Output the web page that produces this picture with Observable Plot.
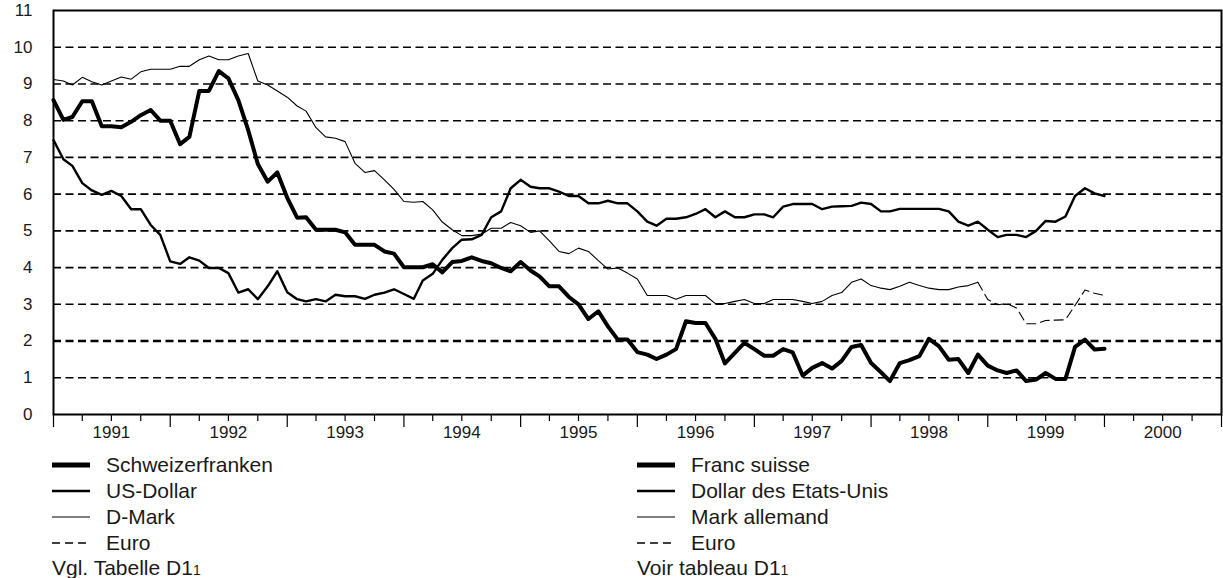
<!DOCTYPE html>
<html>
<head>
<meta charset="utf-8">
<script src="https://cdn.jsdelivr.net/npm/d3@7"></script>
<script src="https://cdn.jsdelivr.net/npm/@observablehq/plot@0.6"></script>
<style>
  html, body { margin: 0; padding: 0; background: #fff; }
  body { width: 1223px; height: 578px; position: relative; overflow: hidden; font-family: "Liberation Sans", Arial, sans-serif; color: #1a1a1a; }
  #chart { position: absolute; left: 0; top: 0; }
  .legcol { position: absolute; top: 452px; font-size: 21px; line-height: 26px; }
  .row { display: flex; align-items: center; height: 26px; white-space: nowrap; }
  .row svg { width: 40px; height: 26px; margin-right: 14px; flex: none; }
  .fn { font-size: 14px; }
</style>
</head>
<body>
<div id="chart"></div>
<div class="legcol" id="legL" style="left:52px"></div>
<div class="legcol" id="legR" style="left:637px"></div>
<script>
// ---- data (monthly, first value = January 1991) ----
const firstMonth = [1991, 0];
const chf = [8.56,8.02,8.10,8.53,8.53,7.85,7.85,7.82,7.97,8.15,8.29,8.00,
             8.00,7.36,7.56,8.81,8.81,9.35,9.15,8.56,7.74,6.82,6.34,6.59,
             5.90,5.36,5.37,5.03,5.03,5.03,4.96,4.62,4.62,4.62,4.44,4.38,
             4.01,4.01,4.01,4.09,3.87,4.15,4.18,4.28,4.18,4.12,3.99,3.90,
             4.15,3.92,3.76,3.49,3.49,3.20,3.00,2.60,2.81,2.40,2.04,2.04,
             1.70,1.63,1.51,1.63,1.78,2.54,2.49,2.49,2.06,1.39,1.68,1.95,
             1.78,1.60,1.60,1.78,1.69,1.06,1.27,1.40,1.25,1.46,1.84,1.89,
             1.40,1.15,0.91,1.40,1.48,1.59,2.06,1.86,1.49,1.51,1.13,1.63,
             1.33,1.20,1.13,1.20,0.91,0.95,1.13,0.97,0.97,1.84,2.04,1.77,
             1.79];
const usd = [7.47,6.95,6.77,6.30,6.10,5.98,6.09,5.95,5.59,5.59,5.16,4.89,
             4.17,4.10,4.28,4.19,3.99,3.99,3.85,3.32,3.41,3.14,3.49,3.90,
             3.33,3.14,3.08,3.14,3.08,3.26,3.22,3.22,3.15,3.26,3.32,3.41,
             3.28,3.15,3.65,3.83,4.21,4.53,4.76,4.77,4.89,5.37,5.53,6.16,
             6.39,6.20,6.16,6.16,6.07,5.95,5.95,5.75,5.75,5.82,5.75,5.75,
             5.53,5.25,5.14,5.33,5.33,5.37,5.46,5.59,5.37,5.53,5.37,5.37,
             5.45,5.45,5.37,5.66,5.73,5.73,5.73,5.59,5.66,5.67,5.68,5.77,
             5.73,5.53,5.53,5.60,5.60,5.60,5.60,5.60,5.53,5.25,5.14,5.25,
             5.03,4.83,4.89,4.89,4.83,5.00,5.27,5.25,5.39,5.95,6.16,6.02,
             5.95];
const dem = [9.12,9.08,8.97,9.18,9.06,8.97,9.08,9.19,9.13,9.33,9.40,9.40,
             9.40,9.48,9.48,9.66,9.76,9.66,9.66,9.76,9.83,9.08,8.97,8.81,
             8.64,8.40,8.26,7.81,7.56,7.52,7.43,6.84,6.59,6.64,6.39,6.13,
             5.80,5.78,5.80,5.57,5.24,5.03,4.87,4.87,4.91,5.07,5.07,5.23,
             5.14,4.96,5.00,4.73,4.44,4.38,4.53,4.44,4.19,3.96,3.99,3.85,
             3.69,3.24,3.24,3.24,3.14,3.24,3.24,3.24,3.02,3.02,3.08,3.13,
             3.02,3.02,3.13,3.13,3.13,3.08,3.02,3.08,3.24,3.32,3.60,3.69,
             3.51,3.44,3.40,3.49,3.60,3.51,3.44,3.40,3.40,3.47,3.51,3.60];
const euroFirstMonth = [1998, 11];
const euro = [3.60,3.13,2.99,3.02,2.90,2.47,2.47,2.56,2.57,2.58,2.97,3.39,3.30,3.24];

const yTicks = [0,1,2,3,4,5,6,7,8,9,10,11];
const gridThin = [1,3,4,5,6,7,8,9,10];
const gridBold = [2];
const yearLabels = ["1991","1992","1993","1994","1995","1996","1997","1998","1999","2000"];

const legendLeft = ["Schweizerfranken","US-Dollar","D-Mark","Euro"];
const legendRight = ["Franc suisse","Dollar des Etats-Unis","Mark allemand","Euro"];
const noteLeft = "Vgl. Tabelle D1";
const noteRight = "Voir tableau D1";
const noteMark = "1";

// ---- build tables ----
const toRows = (vals, [y, mo]) => vals.map((v, i) => ({date: new Date(Date.UTC(y, mo + i, 1)), value: v}));
const chfRows = toRows(chf, firstMonth);
const usdRows = toRows(usd, firstMonth);
const demRows = toRows(dem, firstMonth);
const euroRows = toRows(euro, euroFirstMonth);

const yearStarts = yearLabels.map(y => new Date(Date.UTC(+y, 0, 1))).concat([new Date(Date.UTC(2001,0,1))]);
const quarterTicks = yearLabels.flatMap(y => [3, 6, 9].map(m => new Date(Date.UTC(+y, m, 1))));
const midYears = yearLabels.map(y => new Date(Date.UTC(+y, 6, 1)));

const dash = "8,4.5";
const chart = Plot.plot({
  width: 1223,
  height: 445,
  marginLeft: 53,
  marginRight: 2,
  marginTop: 10,
  marginBottom: 31,
  style: {fontFamily: "'Liberation Sans', Arial, sans-serif", fontSize: "17px", color: "#1a1a1a", background: "#fff"},
  x: {type: "utc", domain: [new Date(Date.UTC(1991,0,1)), new Date(Date.UTC(2001,0,1))], axis: null, label: null},
  y: {domain: [0, 11], axis: null, label: null},
  marks: [
    Plot.ruleY(gridThin, {stroke: "#000", strokeWidth: 1.6, strokeDasharray: dash}),
    Plot.ruleY(gridBold, {stroke: "#000", strokeWidth: 2.6, strokeDasharray: dash}),
    Plot.lineY(demRows, {x: "date", y: "value", stroke: "#000", strokeWidth: 1.1}),
    Plot.lineY(euroRows, {x: "date", y: "value", stroke: "#000", strokeWidth: 1.1, strokeDasharray: "9,5"}),
    Plot.lineY(usdRows, {x: "date", y: "value", stroke: "#000", strokeWidth: 2.4}),
    Plot.lineY(chfRows, {x: "date", y: "value", stroke: "#000", strokeWidth: 4}),
    Plot.frame({stroke: "#000", strokeWidth: 2}),
    Plot.axisY({ticks: yTicks, tickSize: 0, tickPadding: 21, fontSize: 17, label: null, tickFormat: d => String(d)}),
    Plot.axisX({ticks: yearStarts, tickSize: 13, label: null, tickFormat: () => "", stroke: "#000", strokeWidth: 1.2}),
    Plot.axisX({ticks: quarterTicks, tickSize: 7, label: null, tickFormat: () => "", stroke: "#000", strokeWidth: 1.2}),
    Plot.axisX({ticks: midYears, tickSize: 0, tickPadding: 11, fontSize: 17, label: null, tickFormat: (d, i) => yearLabels[i]})
  ]
});
document.getElementById("chart").appendChild(chart);

// ---- legend ----
const samples = [
  {w: 5, dash: null},
  {w: 2.6, dash: null},
  {w: 1.1, dash: null},
  {w: 1.3, dash: "8,5"}
];
function fillLegend(el, labels, note) {
  labels.forEach((t, i) => {
    const s = samples[i];
    const row = document.createElement("div");
    row.className = "row";
    row.innerHTML = `<svg viewBox="0 0 40 26"><line x1="0" x2="38" y1="13" y2="13" stroke="#000" stroke-width="${s.w}" ${s.dash ? `stroke-dasharray="${s.dash}"` : ""}/></svg><span>${t}</span>`;
    el.appendChild(row);
  });
  const n = document.createElement("div");
  n.className = "row";
  n.innerHTML = `<span>${note}<span class="fn">${noteMark}</span></span>`;
  el.appendChild(n);
}
fillLegend(document.getElementById("legL"), legendLeft, noteLeft);
fillLegend(document.getElementById("legR"), legendRight, noteRight);
</script>
</body>
</html>
